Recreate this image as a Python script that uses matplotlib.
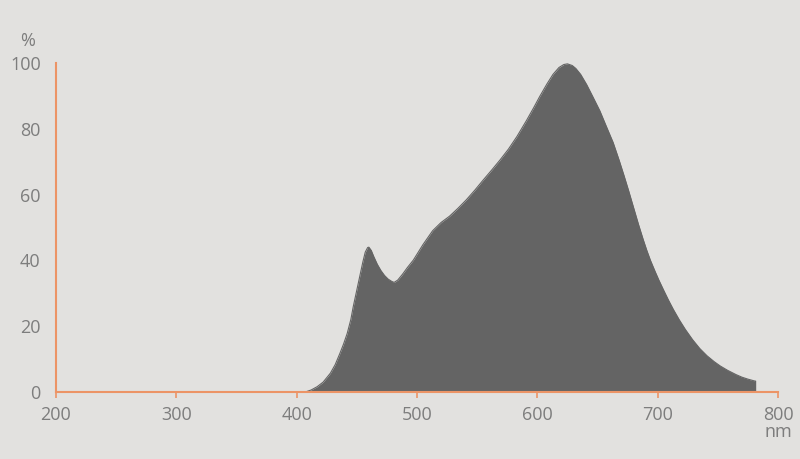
import numpy as np
import matplotlib
matplotlib.use('Agg')
import matplotlib.pyplot as plt

# spectre (nm, %)
wavelength = [380, 395, 402, 408, 412, 417, 422, 428, 432, 436, 439, 442, 445, 447, 450,
              453, 455, 457, 459, 460, 462, 464, 467, 470, 473, 476, 479, 481, 484, 488,
              492, 497, 505, 513, 520, 527, 534, 541, 548, 555, 562, 569, 576, 583, 591,
              597, 602, 608, 613, 618, 622, 625, 629, 632, 636, 641, 646, 652, 657, 663,
              668, 672, 676, 680, 684, 688, 691, 694, 698, 701, 705, 709, 713, 718, 723,
              729, 735, 741, 747, 752, 758, 765, 770, 775, 781]
intensity = [0.0, 0.05, 0.05, 0.1, 0.6, 1.6, 3.0, 5.7, 8.3, 11.8, 14.6, 17.8, 22.0, 25.9, 31.0,
             36.1, 39.5, 42.5, 43.9, 44.0, 43.0, 41.2, 38.8, 36.9, 35.4, 34.3, 33.6, 33.3, 34.0, 35.8,
             37.8, 40.1, 44.8, 49.0, 51.5, 53.4, 55.8, 58.4, 61.3, 64.4, 67.4, 70.5, 73.8, 77.6, 82.5,
             86.4, 89.8, 93.6, 96.5, 98.6, 99.5, 99.7, 99.2, 98.3, 96.5, 93.4, 89.8, 85.4, 81.0, 75.8,
             70.4, 65.8, 61.0, 56.0, 51.0, 46.3, 43.0, 40.0, 36.5, 34.0, 30.9, 27.9, 25.1, 21.9, 19.0,
             15.9, 13.2, 11.0, 9.2, 7.9, 6.6, 5.3, 4.5, 3.9, 3.3]
x_ticks = [200, 300, 400, 500, 600, 700, 800]
y_ticks = [0, 20, 40, 60, 80, 100]

bg = '#e2e1df'
orange = '#ec9466'
grey_txt = '#7d7d7d'

plt.rcParams['font.family'] = ['Open Sans', 'DejaVu Sans']

fig = plt.figure(figsize=(8, 4.59), dpi=100, facecolor=bg)
ax = fig.add_axes([0.07, 0.146, 0.9025, 0.717], facecolor=bg)

x = np.array(wavelength)
y = np.array(intensity)
ax.fill_between(x, 0, y, color='#646464', lw=0)
ax.plot(x, y, color='#646464', lw=0.8, solid_joinstyle='round')
ax.plot([x[-1], x[-1]], [0, y[-1]], color='#646464', lw=1)

ax.set_xlim(200, 800)
ax.set_ylim(0, 100)
ax.set_xticks(x_ticks)
ax.set_yticks(y_ticks)
ax.tick_params(axis='x', colors=orange, length=4, width=1.2, labelsize=13,
               labelcolor=grey_txt, pad=6)
ax.tick_params(axis='y', length=0, labelsize=13, labelcolor=grey_txt, pad=11)

for side in ['top', 'right']:
    ax.spines[side].set_visible(False)
for side in ['left', 'bottom']:
    ax.spines[side].set_color(orange)
    ax.spines[side].set_linewidth(1.5)

fig.text(0.034, 0.89, '%', fontsize=13, color=grey_txt, ha='center', va='bottom')
fig.text(0.973, 0.058, 'nm', fontsize=13, color=grey_txt, ha='center', va='center')

fig.savefig('out.png', dpi=100, facecolor=bg)
